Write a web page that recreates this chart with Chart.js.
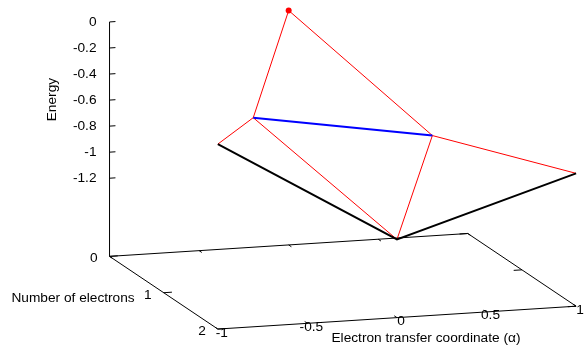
<!DOCTYPE html>
<html><head><meta charset="utf-8">
<script src="https://cdn.jsdelivr.net/npm/chart.js@4/dist/chart.umd.min.js"></script>
<style>html,body{margin:0;padding:0;background:#fff;}canvas{display:block;}</style>
</head><body>
<canvas id="c" width="586" height="348"></canvas>
<script>
// ---- Data ----
const electronCounts = [0, 1, 2];
const alphaN0 = [0];
const energyN0 = [0];
const alphaN1 = [-0.5, 0.5];
const energyN1 = [-0.5, -0.725];
const alphaN2 = [-1, 0, 1];
const energyN2 = [-0.38, -1.2, -0.78];

const alphaTicks = [-1, -0.5, 0, 0.5, 1];
const alphaTickLabels = ['-1', '-0.5', '0', '0.5', '1'];
const electronTicks = [0, 1, 2];
const electronTickLabels = ['0', '1', '2'];
const energyTicks = [0, -0.2, -0.4, -0.6, -0.8, -1, -1.2];
const energyTickLabels = ['0', '-0.2', '-0.4', '-0.6', '-0.8', '-1', '-1.2'];

const alphaRange = [-1, 1];
const electronRange = [0, 2];
const energyRange = [-1.2, 0];

const xTitle = 'Electron transfer coordinate (\u03b1)';
const yTitle = 'Number of electrons';
const zTitle = 'Energy';

// ---- View / projection (layout, not data) ----
const VIEW = { ox: 107, oy: 258.3, exx: 181.6, exy: -11.7, eyx: 54.9, eyy: 37.2, ez: 133.3, ticslevel: 0.5 };
const zBase = energyRange[0] - VIEW.ticslevel * (energyRange[1] - energyRange[0]);
function proj(a, n, e) {
  const da = a - alphaRange[0], dn = n - electronRange[0], dz = e - zBase;
  return { x: VIEW.ox + da * VIEW.exx + dn * VIEW.eyx, y: VIEW.oy + da * VIEW.exy + dn * VIEW.eyy - dz * VIEW.ez };
}

const levels = [
  { alpha: alphaN0, energy: energyN0 },
  { alpha: alphaN1, energy: energyN1 },
  { alpha: alphaN2, energy: energyN2 }
];

const datasets = [];
function seg(points, color, width, order) {
  datasets.push({ data: points, showLine: true, borderColor: color, borderWidth: width,
    pointRadius: 0, fill: false, order: order, clip: false, tension: 0 });
}

// base frame
const a0 = alphaRange[0], a1 = alphaRange[1], n0 = electronRange[0], n1 = electronRange[1];
seg([proj(a0, n0, zBase), proj(a1, n0, zBase), proj(a1, n1, zBase), proj(a0, n1, zBase), proj(a0, n0, zBase)], '#000', 1, 20);
// z axis
seg([proj(a0, n0, zBase), proj(a0, n0, energyRange[1])], '#000', 1, 20);
energyTicks.forEach(e => seg([proj(a0, n0, e), proj(a0 + 0.033, n0, e)], '#000', 1, 20));
// y ticks (left and right edges)
electronTicks.forEach(n => {
  seg([proj(a0, n, zBase), proj(a0 + 0.046, n, zBase)], '#000', 1, 20);
  seg([proj(a1, n, zBase), proj(a1 - 0.046, n, zBase)], '#000', 1, 20);
});
// x ticks (front and back edges)
alphaTicks.forEach(a => {
  seg([proj(a, n1, zBase), proj(a, n1 - 0.05, zBase)], '#000', 1, 20);
  seg([proj(a, n0, zBase), proj(a, n0 + 0.05, zBase)], '#000', 1, 20);
});

// tree edges: node i at level k connects to nodes i and i+1 at level k+1
for (let k = 0; k < levels.length - 1; k++) {
  const L = levels[k], M = levels[k + 1];
  L.alpha.forEach((a, i) => {
    [i, i + 1].forEach(j => {
      seg([proj(a, electronCounts[k], L.energy[i]), proj(M.alpha[j], electronCounts[k + 1], M.energy[j])], '#ff0000', 1, 5);
    });
  });
}
// level lines
seg(alphaN1.map((a, i) => proj(a, electronCounts[1], energyN1[i])), '#0000ff', 2, 3);
seg(alphaN2.map((a, i) => proj(a, electronCounts[2], energyN2[i])), '#000000', 2, 3);
// top point
datasets.push({ data: alphaN0.map((a, i) => proj(a, electronCounts[0], energyN0[i])), showLine: false,
  pointRadius: 3, pointBackgroundColor: '#ff0000', pointBorderColor: '#ff0000', borderWidth: 0, order: 0, clip: false });

const FONT = '13.7px "Liberation Sans", Arial, sans-serif';
const textPlugin = {
  id: 'axisText',
  afterDraw(chart) {
    const ctx = chart.ctx, sx = chart.scales.x, sy = chart.scales.y;
    const P = (p) => ({ x: sx.getPixelForValue(p.x), y: sy.getPixelForValue(p.y) });
    ctx.save();
    ctx.font = FONT;
    ctx.fillStyle = '#000';
    ctx.textBaseline = 'middle';
    // energy tick labels
    ctx.textAlign = 'right';
    energyTicks.forEach((e, i) => { const p = P(proj(a0, n0, e)); ctx.fillText(energyTickLabels[i], p.x - 13, p.y + 0.3); });
    // electron tick labels
    electronTicks.forEach((n, i) => { const p = P(proj(a0, n, zBase)); ctx.fillText(electronTickLabels[i], p.x - 12, p.y + 2.2); });
    // y title
    { const p = P(proj(a0, (n0 + n1) / 2, zBase)); ctx.fillText(yTitle, p.x - 29, p.y + 5.5); }
    // alpha tick labels
    ctx.textAlign = 'center';
    alphaTicks.forEach((a, i) => { const p = P(proj(a, n1, zBase)); ctx.fillText(alphaTickLabels[i], p.x + 4, p.y + 3.8); });
    // x title
    { const p = P(proj((a0 + a1) / 2, n1, zBase)); ctx.fillText(xTitle, p.x + 29, p.y + 20.5); }
    // z title
    { const p = P(proj(a0, n0, (energyRange[0] + energyRange[1]) / 2));
      ctx.translate(p.x - 57, p.y - 0.5); ctx.rotate(-Math.PI / 2); ctx.fillText(zTitle, 0, 0); }
    ctx.restore();
  }
};

new Chart(document.getElementById('c'), {
  type: 'scatter',
  data: { datasets },
  options: {
    responsive: false, animation: false, devicePixelRatio: 1,
    layout: { padding: 0 },
    plugins: { legend: { display: false }, tooltip: { enabled: false } },
    scales: {
      x: { type: 'linear', min: 0, max: 586, display: false },
      y: { type: 'linear', min: 0, max: 348, reverse: true, display: false }
    }
  },
  plugins: [textPlugin]
});
</script>
</body></html>
